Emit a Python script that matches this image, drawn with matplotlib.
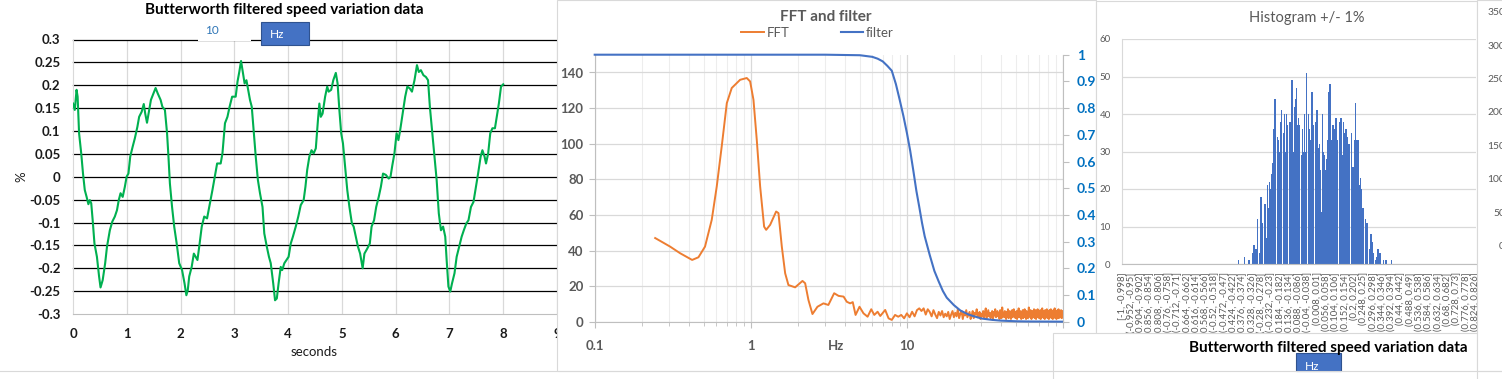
import matplotlib
matplotlib.use("Agg")
import matplotlib.pyplot as plt
import numpy as np
from matplotlib.patches import Rectangle
from matplotlib.lines import Line2D
from matplotlib.ticker import LogLocator, NullFormatter

plt.rcParams['font.family'] = ['Lato', 'DejaVu Sans']

# ---------------- data: time series (left chart) ----------------
t_sec = [0, 0.033, 0.066, 0.086, 0.113, 0.153, 0.186, 0.219, 0.253, 0.286,
         0.313, 0.339, 0.366, 0.399, 0.445, 0.485, 0.512, 0.552, 0.598, 0.632,
         0.685, 0.731, 0.778, 0.818, 0.851, 0.884, 0.924, 0.964, 0.997, 1.031,
         1.064, 1.110, 1.150, 1.197, 1.230, 1.277, 1.316, 1.343, 1.376, 1.416,
         1.449, 1.496, 1.536, 1.576, 1.629, 1.662, 1.709, 1.749, 1.775, 1.802,
         1.842, 1.882, 1.928, 1.975, 2.028, 2.074, 2.108, 2.134, 2.161, 2.207,
         2.247, 2.281, 2.314, 2.347, 2.394, 2.440, 2.493, 2.547, 2.593, 2.646,
         2.680, 2.746, 2.779, 2.826, 2.872, 2.912, 2.959, 3.025, 3.059, 3.092,
         3.125, 3.158, 3.191, 3.225, 3.258, 3.291, 3.324, 3.358, 3.398, 3.438,
         3.477, 3.524, 3.557, 3.604, 3.644, 3.677, 3.723, 3.757, 3.790, 3.823,
         3.863, 3.890, 3.930, 3.969, 4.009, 4.049, 4.089, 4.142, 4.189, 4.235,
         4.289, 4.322, 4.355, 4.395, 4.435, 4.475, 4.515, 4.555, 4.581, 4.608,
         4.641, 4.688, 4.727, 4.754, 4.801, 4.840, 4.887, 4.920, 4.953, 4.987,
         5.020, 5.060, 5.100, 5.140, 5.186, 5.219, 5.259, 5.299, 5.339, 5.386,
         5.419, 5.472, 5.519, 5.552, 5.598, 5.638, 5.685, 5.725, 5.765, 5.818,
         5.871, 5.904, 5.938, 5.977, 6.017, 6.051, 6.084, 6.130, 6.177, 6.217,
         6.263, 6.303, 6.350, 6.396, 6.430, 6.469, 6.516, 6.563, 6.602, 6.636,
         6.682, 6.722, 6.762, 6.802, 6.842, 6.882, 6.922, 6.948, 6.981, 7.015,
         7.048, 7.094, 7.134, 7.181, 7.227, 7.267, 7.314, 7.354, 7.400, 7.447,
         7.493, 7.533, 7.580, 7.613, 7.653, 7.680, 7.720, 7.759, 7.799, 7.846,
         7.879, 7.919, 7.959, 8.0]
speed_pct = [0.16, 0.146, 0.19, 0.175, 0.095, 0.051, 0.007, -0.029, -0.044, -0.06,
             -0.051, -0.058, -0.095, -0.146, -0.175, -0.218, -0.242, -0.226, -0.189, -0.153,
             -0.117, -0.098, -0.087, -0.073, -0.051, -0.036, -0.044, -0.022, 0.0, 0.007,
             0.044, 0.066, 0.084, 0.109, 0.131, 0.142, 0.159, 0.138, 0.118, 0.146,
             0.168, 0.182, 0.194, 0.182, 0.168, 0.153, 0.146, 0.095, 0.044, -0.015,
             -0.066, -0.109, -0.146, -0.189, -0.204, -0.233, -0.259, -0.248, -0.218, -0.197,
             -0.168, -0.175, -0.182, -0.153, -0.109, -0.087, -0.091, -0.058, -0.029, 0.007,
             0.029, 0.029, 0.051, 0.117, 0.131, 0.153, 0.175, 0.175, 0.208, 0.229,
             0.253, 0.229, 0.204, 0.211, 0.19, 0.168, 0.153, 0.102, 0.044, -0.007,
             -0.036, -0.066, -0.124, -0.153, -0.175, -0.189, -0.233, -0.27, -0.266, -0.233,
             -0.197, -0.204, -0.189, -0.182, -0.175, -0.146, -0.131, -0.109, -0.087, -0.062,
             -0.051, -0.022, 0.015, 0.044, 0.058, 0.051, 0.062, 0.124, 0.16, 0.131,
             0.138, 0.175, 0.197, 0.186, 0.19, 0.211, 0.227, 0.204, 0.146, 0.095,
             0.073, 0.022, -0.029, -0.066, -0.102, -0.109, -0.131, -0.153, -0.168, -0.2,
             -0.168, -0.157, -0.146, -0.109, -0.095, -0.066, -0.044, -0.022, 0.007, 0.004,
             -0.004, 0.0, 0.025, 0.051, 0.095, 0.08, 0.102, 0.138, 0.175, 0.197,
             0.193, 0.186, 0.211, 0.244, 0.229, 0.233, 0.222, 0.218, 0.211, 0.153,
             0.095, 0.044, -0.007, -0.08, -0.117, -0.109, -0.131, -0.182, -0.24, -0.251,
             -0.233, -0.211, -0.175, -0.153, -0.131, -0.117, -0.102, -0.095, -0.066, -0.055,
             -0.022, 0.007, 0.044, 0.058, 0.044, 0.029, 0.051, 0.095, 0.106, 0.106,
             0.131, 0.16, 0.197, 0.202]
x1_ticks = [0, 1, 2, 3, 4, 5, 6, 7, 8, 9]
y1_ticks = [0.3, 0.25, 0.2, 0.15, 0.1, 0.05, 0, -0.05, -0.1, -0.15, -0.2, -0.25, -0.3]
y1_labels = ['0.3', '0.25', '0.2', '0.15', '0.1', '0.05', '0', '-0.05', '-0.1',
             '-0.15', '-0.2', '-0.25', '-0.3']

# ---------------- data: FFT and filter (middle chart) ----------------
fft_freq_low = [0.244, 0.304, 0.352, 0.421, 0.462, 0.509, 0.562, 0.605, 0.651, 0.702,
                0.755, 0.854, 0.942, 0.99, 1.04, 1.092, 1.148, 1.217, 1.254, 1.33,
                1.453, 1.504, 1.58, 1.66, 1.742, 1.923, 2.143, 2.229, 2.34, 2.483,
                2.673, 2.92, 3.14, 3.42, 3.65, 3.93, 4.12, 4.33, 4.5, 4.69,
                4.97, 5.27, 5.6, 5.91, 6.18, 6.49, 6.75, 7.26, 7.63]
fft_amp_low = [47.0, 42.2, 38.5, 34.7, 36.2, 42.2, 57.2, 75.9, 98.4, 122.8,
               131.3, 135.9, 136.9, 135.0, 124.7, 102.2, 75.9, 53.4, 51.6, 54.4,
               61.9, 61.0, 42.2, 27.2, 20.6, 19.3, 22.9, 21.6, 12.2, 4.3,
               8.4, 10.3, 9.4, 16.0, 14.5, 14.1, 11.2, 10.3, 11.0, 3.8,
               8.4, 4.7, 2.8, 7.0, 3.8, 5.6, 3.2, 6.6, 1.9]
fft_noise_start_hz = 8.0
fft_noise_step_hz = 0.4
fft_noise_amp = [1.0, 3.8, 2.8, 3.8, 1.9, 4.7, 2.5, 5.6, 3.0, 6.5, 7.5,
                 6.0, 7.5, 4.0, 7.0, 5.5, 3.0, 6.5, 4.0, 2.0, 5.5, 3.5, 6.0, 2.5, 4.5, 3.0, 5.5, 1.5, 4.0, 6.0, 2.5,
                 5.0, 3.0, 7.0, 2.0, 4.5, 6.0, 1.5, 5.0, 3.5, 6.5, 2.5, 4.0, 5.5, 1.5, 3.5, 6.0, 2.0, 5.0, 4.0, 7.0,
                 2.5, 3.5, 5.5, 1.5, 4.5,
                 3.0, 6.0, 2.0, 5.0, 7.5, 1.5, 4.0, 6.5, 3.0, 5.0,
                 2.0, 4.5, 6.0, 1.0, 5.5, 3.5, 7.0, 2.5, 4.0, 6.0,
                 3.0, 5.0, 1.5, 6.5, 4.0, 2.0, 8.0, 3.5, 5.0, 2.5,
                 6.0, 4.0, 1.5, 5.5, 3.0, 7.0, 2.0, 4.5, 6.0, 3.5,
                 1.5, 5.0, 6.5, 2.5, 4.0, 7.0, 3.0, 5.5, 2.0, 4.5,
                 6.0, 1.5, 3.5, 5.0, 7.5, 2.5, 4.5, 6.0, 3.0, 1.5,
                 5.5, 4.0, 6.5, 2.0, 3.5, 5.0, 7.0, 2.5, 4.5, 1.5,
                 6.0, 3.0, 5.5, 2.0, 4.0, 8.0, 3.5, 5.0, 2.5, 6.5,
                 4.0, 1.5, 5.5, 3.0, 6.0, 2.5, 4.5, 7.0, 3.5, 2.0,
                 5.0, 6.5, 1.5, 4.0, 5.5, 3.0, 7.0, 2.5, 4.5, 6.0,
                 2.0, 5.0, 3.5, 6.5, 1.5, 4.0, 5.5, 2.5, 7.5, 3.0,
                 4.5, 6.0, 2.0, 5.0, 3.5, 1.5, 6.5, 4.0, 5.5, 2.5,
                 3.0, 7.0, 4.5, 2.0, 6.0, 3.5, 5.0, 1.5, 4.0, 6.5,
                 2.5, 5.5, 3.0, 7.0, 4.0, 2.0, 5.0, 6.0, 3.5, 1.5,
                 4.5, 6.5, 2.5, 5.0, 3.0, 7.5, 4.0, 2.0, 5.5, 3.5,
                 6.0, 1.5, 4.5, 5.0, 2.5, 6.5, 3.0, 4.0, 7.0, 2.0,
                 5.5, 3.5, 4.5, 6.0, 2.5, 5.0, 3.0, 6.5, 4.0, 2.0,
                 5.0, 3.5, 6.0, 4.5, 2.5]
filt_freq = [0.1, 3.0, 5.0, 6.0, 6.5, 7.0, 7.5, 8.0, 8.5, 9.0, 9.5, 10.0, 10.5, 11.0,
             11.5, 12.0, 12.5, 13.0, 14.0, 15.0, 16.0, 17.0, 18.0, 20.0, 22.0, 25.0,
             30.0, 35.0, 40.0, 50.0, 60.0, 100.0]
filt_gain = [1.0, 1.0, 0.998, 0.992, 0.985, 0.975, 0.958, 0.94, 0.89, 0.83, 0.77, 0.707,
             0.64, 0.565, 0.49, 0.43, 0.37, 0.32, 0.25, 0.19, 0.15, 0.115, 0.09, 0.062,
             0.042, 0.026, 0.012, 0.007, 0.004, 0.0016, 0.0008, 0.0001]
fft_x_ticks = [0.1, 1, 10, 100]
fft_x_labels = ['0.1', '1', '10', '100']
fft_y_ticks = [0, 20, 40, 60, 80, 100, 120, 140]
filt_y_ticks = [0, 0.1, 0.2, 0.3, 0.4, 0.5, 0.6, 0.7, 0.8, 0.9, 1.0]
filt_y_labels = ['0', '0.1', '0.2', '0.3', '0.4', '0.5', '0.6', '0.7', '0.8', '0.9', '1']

# ---------------- data: histogram (right chart) ----------------
hist_centers = [-0.395, -0.364, -0.343, -0.322, -0.317, -0.307, -0.297, -0.286, -0.281, -0.276,
                -0.271, -0.264, -0.260, -0.254, -0.248, -0.245, -0.238, -0.231, -0.224, -0.219,
                -0.214, -0.209, -0.204, -0.197, -0.190, -0.183, -0.180, -0.173, -0.166, -0.159,
                -0.152, -0.149, -0.142, -0.135, -0.131, -0.128, -0.121, -0.114, -0.107, -0.102,
                -0.099, -0.094, -0.087, -0.080, -0.073, -0.068, -0.063, -0.056, -0.051, -0.044,
                -0.037, -0.032, -0.025, -0.018, -0.011, -0.008, -0.001, 0.005, 0.008, 0.013,
                0.020, 0.025, 0.030, 0.035, 0.041, 0.046, 0.051, 0.056, 0.061, 0.066,
                0.072, 0.075, 0.082, 0.087, 0.094, 0.099, 0.106, 0.111, 0.116, 0.123,
                0.127, 0.132, 0.139, 0.146, 0.151, 0.158, 0.163, 0.168, 0.173, 0.178,
                0.187, 0.194, 0.202, 0.209, 0.214, 0.220, 0.226, 0.232, 0.237, 0.244,
                0.250, 0.257, 0.264, 0.271, 0.278, 0.285, 0.290, 0.295, 0.302, 0.309,
                0.316, 0.323, 0.330, 0.336, 0.350, 0.364, 0.392]
hist_counts = [1, 2, 1, 3, 5, 4, 12, 3, 18, 11,
               8, 8, 16, 7, 21, 15, 22, 20, 24, 27,
               36, 44, 36, 34, 33, 30, 38, 41, 35, 40,
               30, 40, 37, 37, 38, 30, 49, 30, 42, 44,
               47, 37, 39, 37, 29, 36, 30, 40, 30, 51,
               40, 36, 33, 46, 37, 27, 38, 36, 41, 31,
               32, 25, 14, 40, 30, 29, 25, 28, 33, 46,
               30, 48, 33, 37, 37, 36, 39, 37, 33, 38,
               33, 39, 29, 38, 35, 36, 34, 32, 26, 32,
               35, 26, 33, 43, 33, 33, 21, 23, 20, 15,
               15, 12, 11, 11, 4, 8, 8, 6, 3, 1,
               2, 4, 3, 3, 1, 1, 1]
hist_bin_labels = ['[-1, -0.998]', '(-0.952, -0.95]', '(-0.904, -0.902]', '(-0.856, -0.854]',
                   '(-0.808, -0.806]', '(-0.76, -0.758]', '(-0.712, -0.71]', '(-0.664, -0.662]',
                   '(-0.616, -0.614]', '(-0.568, -0.566]', '(-0.52, -0.518]', '(-0.472, -0.47]',
                   '(-0.424, -0.422]', '(-0.376, -0.374]', '(-0.328, -0.326]', '(-0.28, -0.278]',
                   '(-0.232, -0.23]', '(-0.184, -0.182]', '(-0.136, -0.134]', '(-0.088, -0.086]',
                   '(-0.04, -0.038]', '(0.008, 0.01]', '(0.056, 0.058]', '(0.104, 0.106]',
                   '(0.152, 0.154]', '(0.2, 0.202]', '(0.248, 0.25]', '(0.296, 0.298]',
                   '(0.344, 0.346]', '(0.392, 0.394]', '(0.44, 0.442]', '(0.488, 0.49]',
                   '(0.536, 0.538]', '(0.584, 0.586]', '(0.632, 0.634]', '(0.68, 0.682]',
                   '(0.728, 0.73]', '(0.776, 0.778]', '(0.824, 0.826]']
hist_bin_centers = [-0.999, -0.951, -0.903, -0.855, -0.807, -0.759, -0.711, -0.663,
                    -0.615, -0.567, -0.519, -0.471, -0.423, -0.375, -0.327, -0.279,
                    -0.231, -0.183, -0.135, -0.087, -0.039, 0.009, 0.057, 0.105,
                    0.153, 0.201, 0.249, 0.297, 0.345, 0.393, 0.441, 0.489,
                    0.537, 0.585, 0.633, 0.681, 0.729, 0.777, 0.825]
hist_y_ticks = [0, 10, 20, 30, 40, 50, 60]
right_chart_labels = ['350', '300', '250', '200', '150', '100', '50', '0']

# ---------------- figure helpers ----------------
W, H = 1502, 379
fig = plt.figure(figsize=(W / 100, H / 100), dpi=100)
fig.patch.set_facecolor('white')


def fbox(x0, y0, x1, y1):
    return [x0 / W, 1 - y1 / H, (x1 - x0) / W, (y1 - y0) / H]


def rect(x0, y0, x1, y1, fc='white', ec='none', lw=0.8, z=1):
    r = Rectangle((x0 / W, 1 - y1 / H), (x1 - x0) / W, (y1 - y0) / H,
                  transform=fig.transFigure, facecolor=fc, edgecolor=ec, lw=lw, zorder=z)
    fig.add_artist(r)
    return r


def ftext(x, y, s, **kw):
    return fig.text(x / W, 1 - y / H, s, **kw)


GRID = '#D9D9D9'
AX = '#BFBFBF'
TXT = '#595959'

# ---------------- left chart ----------------
ax1 = fig.add_axes(fbox(73, 39.5, 557, 314))
ax1.set_zorder(0)
ax1.plot(t_sec, speed_pct, color='#00B050', lw=1.5, zorder=4)
ax1.set_xlim(0, 9)
ax1.set_ylim(-0.3, 0.3)
ax1.set_xticks(x1_ticks)
ax1.set_xticklabels([str(v) for v in x1_ticks])
ax1.set_yticks(y1_ticks)
ax1.set_yticklabels(y1_labels)
for v in x1_ticks[1:]:
    ax1.axvline(v, color=GRID, lw=0.9, zorder=1)
for v in y1_ticks[:-1]:
    ax1.axhline(v, color='black', lw=0.9, zorder=2, clip_on=False)
for s in ['top', 'right']:
    ax1.spines[s].set_visible(False)
ax1.spines['left'].set_color(GRID)
ax1.spines['bottom'].set_color(AX)
ax1.tick_params(length=0, labelsize=9.5, labelcolor='#1a1a1a')
ax1.tick_params(axis='y', pad=9)
ax1.tick_params(axis='x', pad=10)
for lab in ax1.get_xticklabels() + ax1.get_yticklabels():
    lab.set_fontweight('bold')
ax1.set_xlabel('seconds', fontsize=9.5, color='#1a1a1a')
ax1.xaxis.set_label_coords((314 - 73) / 484, -(352 - 314) / 274.5)
ax1.xaxis.label.set_va('center')
ax1.set_ylabel('%', fontsize=9.5, color='#1a1a1a')
ax1.yaxis.set_label_coords(-(73 - 21) / 484, (314 - 177) / 274.5)
ax1.yaxis.label.set_va('center')
ftext(284, 10, 'Butterworth filtered speed variation data', ha='center', va='center',
      fontsize=11, fontweight='bold', color='black', zorder=2)
rect(198, 25, 251, 41, fc='white', z=1.5)
ftext(212, 31, '10', ha='center', va='center', fontsize=8.5, color='#2E75B6', zorder=2)
rect(261, 22, 309, 45, fc='#4472C4', ec='#2F528F', lw=0.8, z=1.6)
ftext(270, 34, 'Hz', ha='left', va='center', fontsize=8.5, color='white', zorder=2)

# ---------------- middle chart ----------------
rect(557, 0, 1096, 371, fc='white', ec=GRID, z=1)
ax2 = fig.add_axes(fbox(594.7, 54.7, 1063, 321.7))
ax2.set_zorder(2)
ax2.set_xscale('log')
fft_freq = list(fft_freq_low) + list(fft_noise_start_hz + fft_noise_step_hz * np.arange(len(fft_noise_amp)))
fft_amp = list(fft_amp_low) + list(fft_noise_amp)
l_fft, = ax2.plot(fft_freq, fft_amp, color='#ED7D31', lw=1.4, zorder=3)
ax2.set_xlim(0.1, 100)
ax2.set_ylim(0, 150)
ax2.set_xticks(fft_x_ticks)
ax2.set_xticklabels(fft_x_labels)
ax2.xaxis.set_minor_locator(LogLocator(base=10, subs=range(2, 10)))
ax2.xaxis.set_minor_formatter(NullFormatter())
ax2.set_yticks(fft_y_ticks)
ax2.grid(which='major', color=GRID, lw=0.9)
ax2.grid(which='minor', axis='x', color='#EDEDED', lw=0.8)
ax2.set_axisbelow(True)
ax2.spines['top'].set_visible(False)
ax2.spines['right'].set_visible(False)
ax2.spines['left'].set_color(AX)
ax2.spines['bottom'].set_color(AX)
ax2.tick_params(which='both', direction='out', color=AX, labelcolor=TXT, labelsize=9.5)
ax2.tick_params(axis='y', length=4, pad=4)
ax2.tick_params(axis='x', which='major', length=4, pad=9)
ax2.tick_params(axis='x', which='minor', length=3)
for lab in ax2.get_xticklabels() + ax2.get_yticklabels():
    lab.set_fontweight('bold')
ax2.set_xlabel('Hz', fontsize=9.5, color=TXT, fontweight='bold')
ax2.xaxis.set_label_coords((836 - 594.7) / 468.3, -(346 - 321.7) / 267)
ax2.xaxis.label.set_va('center')

ax2r = ax2.twinx()
ax2r.set_zorder(2.1)
ax2r.patch.set_visible(False)
l_filt, = ax2r.plot(filt_freq, filt_gain, color='#4472C4', lw=1.5, clip_on=False)
ax2r.set_ylim(0, 1)
ax2r.set_yticks(filt_y_ticks)
ax2r.set_yticklabels(filt_y_labels)
for s in ['top', 'left', 'bottom']:
    ax2r.spines[s].set_visible(False)
ax2r.spines['right'].set_color(AX)
ax2r.tick_params(axis='y', direction='out', length=4, color=AX, labelcolor='#0070C0',
                 labelsize=10, pad=6)
for lab in ax2r.get_yticklabels():
    lab.set_fontweight('bold')
ftext(826, 17, 'FFT and filter', ha='center', va='center', fontsize=11,
      fontweight='bold', color=TXT, zorder=3)
ax2r.legend([l_fft, l_filt], ['FFT', 'filter'], ncol=2, loc='center',
            bbox_to_anchor=(817.5 / W, 1 - 33 / H), bbox_transform=fig.transFigure,
            frameon=False, fontsize=9.5, handlelength=1.7, handletextpad=0.2,
            columnspacing=3.9, borderpad=0, labelcolor=TXT)

# ---------------- histogram chart ----------------
rect(1096, 1, 1477, 371, fc='white', ec=GRID, z=3)
axh = fig.add_axes(fbox(1121.7, 39, 1476, 264))
axh.set_zorder(4)
axh.bar(hist_centers, hist_counts, width=0.006, color='#4472C4', lw=0)
axh.set_xlim(-1.0, 0.829)
axh.set_ylim(0, 60)
axh.set_yticks(hist_y_ticks)
axh.set_xticks(hist_bin_centers)
axh.set_xticklabels(hist_bin_labels, rotation=90, va='top', ha='center')
axh.grid(axis='y', color=GRID, lw=0.9)
axh.set_axisbelow(True)
for s in ['top', 'right']:
    axh.spines[s].set_visible(False)
axh.spines['left'].set_color(GRID)
axh.spines['bottom'].set_color(AX)
axh.tick_params(axis='y', length=0, labelsize=7, labelcolor=TXT, pad=8)
axh.tick_params(axis='x', length=0, labelsize=6.8, labelcolor=TXT, pad=6)
ftext(1307, 18, 'Histogram +/- 1%', ha='center', va='center', fontsize=10.5,
      color=TXT, zorder=5)

# ---------------- overlapping partial charts ----------------
rect(1053, 333, 1477, 385, fc='white', ec=GRID, z=5)
ftext(1328, 348, 'Butterworth filtered speed variation data', ha='center', va='center',
      fontsize=11, fontweight='bold', color='black', zorder=6)
rect(1296, 353, 1341, 371, fc='#4472C4', ec='#2F528F', lw=0.8, z=6)
ftext(1305, 366, 'Hz', ha='left', va='center', fontsize=8.5, color='white', zorder=7)

rect(1477, 0, 1510, 371, fc='white', ec=GRID, z=5)
for k, lab in enumerate(right_chart_labels):
    ftext(1505, 12.7 + k * 33.4, lab, ha='right', va='center', fontsize=7.5,
          color=TXT, zorder=6)

fig.add_artist(Line2D([0, 1], [1 - 371 / H, 1 - 371 / H], transform=fig.transFigure,
                      color=GRID, lw=0.8, zorder=8))

fig.savefig('out.png', dpi=100, facecolor='white')
